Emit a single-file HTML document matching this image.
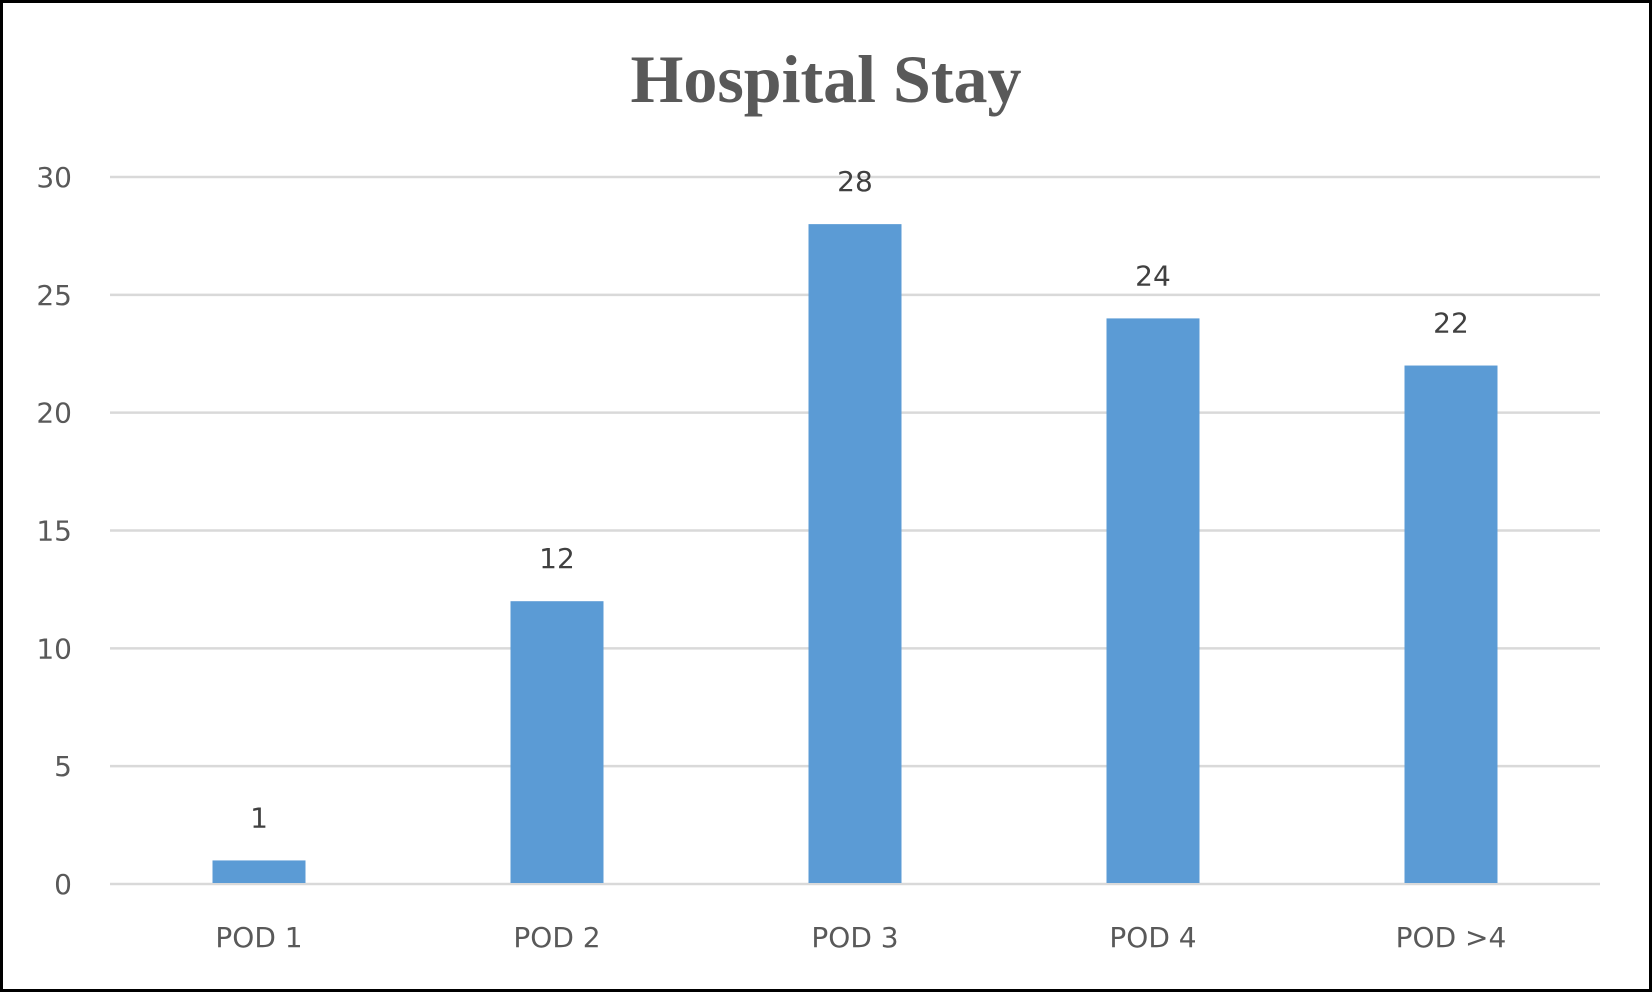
<!DOCTYPE html>
<html><head><meta charset="utf-8"><style>
html,body{margin:0;padding:0;background:#fff}
svg{display:block}
</style></head><body>
<svg width="1652" height="992" viewBox="0 0 1652 992">
<rect x="1.5" y="1.5" width="1649" height="989" fill="#fff" stroke="#000" stroke-width="3"/>
<text x="826" y="102" text-anchor="middle" font-family="Liberation Serif, serif" font-weight="bold" font-size="68" fill="#595959">Hospital Stay</text>
<g id="grid"></g><g id="bars"></g><g id="labels"></g>
</svg>
<script>
const categories = ["POD 1","POD 2","POD 3","POD 4","POD >4"];
const values = [1,12,28,24,22];
const yTicks = [0,5,10,15,20,25,30];
const NS="http://www.w3.org/2000/svg";
const x0=110,x1=1600,yBase=884,yTop=177,yMax=30,barW=93;
const band=(x1-x0)/categories.length;
function yScale(v){return yBase-(v/yMax)*(yBase-yTop);}
function xCenter(i){return x0+band*(i+0.5);}
function mk(tag,attrs,parent){const e=document.createElementNS(NS,tag);for(const k in attrs)e.setAttribute(k,attrs[k]);parent.appendChild(e);return e;}
const grid=document.getElementById('grid'),bars=document.getElementById('bars'),labels=document.getElementById('labels');
yTicks.forEach(t=>{
  const l=mk('line',{x1:x0,x2:x1,y1:yScale(t),y2:yScale(t),stroke:'#d9d9d9','stroke-width':2.5},grid);
  
  
  const tx=mk('text',{x:72,y:yScale(t)+10,'text-anchor':'end','font-family':'DejaVu Sans, Liberation Sans, sans-serif','font-size':28,fill:'#595959'},grid);
  tx.textContent=t;
  
  
});
categories.forEach((c,i)=>{
  const v=values[i];
  const r=mk('rect',{x:xCenter(i)-barW/2,y:yScale(v),width:barW,height:yBase-yScale(v)-1,fill:'#5b9bd5'},bars);
  
  
  const vl=mk('text',{x:xCenter(i),y:yScale(v)-33,'text-anchor':'middle','font-family':'DejaVu Sans, Liberation Sans, sans-serif','font-size':28,fill:'#404040'},labels);
  vl.textContent=v;
  
  
  const xl=mk('text',{x:xCenter(i),y:947,'text-anchor':'middle','font-family':'DejaVu Sans, Liberation Sans, sans-serif','font-size':28,fill:'#595959'},labels);
  xl.textContent=c;
  
  
});
</script>
</body></html>
